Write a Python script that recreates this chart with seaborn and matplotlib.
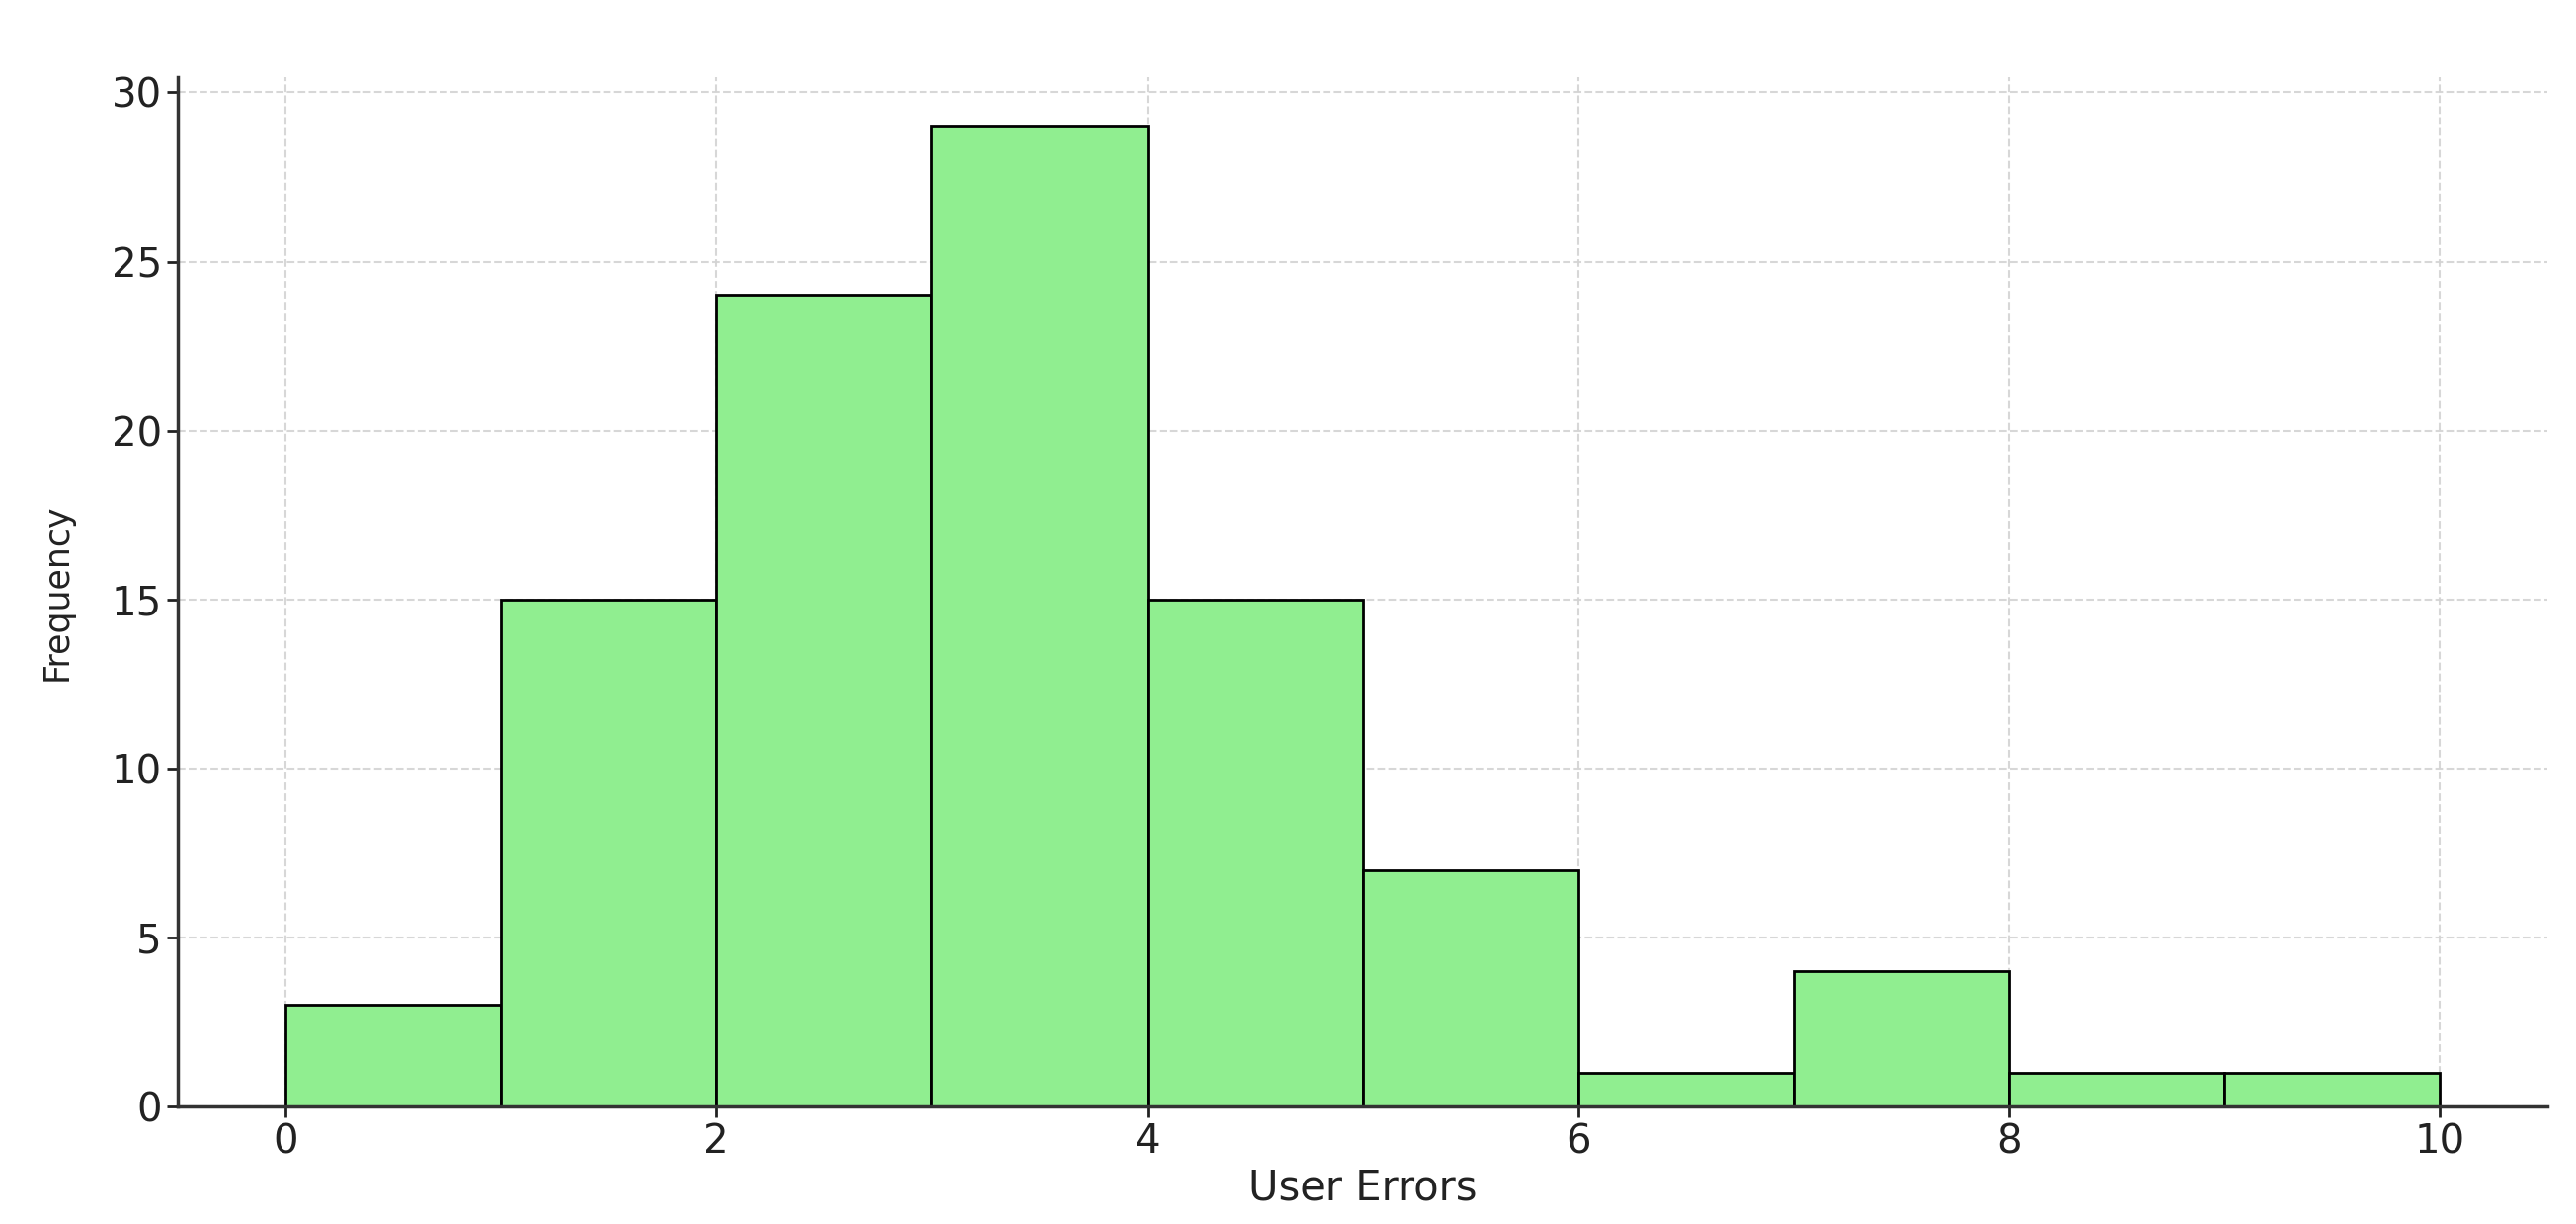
import numpy as np
import matplotlib
matplotlib.use("Agg")
import matplotlib.pyplot as plt
import seaborn as sns

sns.set_style("ticks")
plt.rcParams["font.family"] = ["DejaVu Sans"]

# ==========================
# DATA
# ==========================

bin_edges = [0, 1, 2, 3, 4, 5, 6, 7, 8, 9, 10]
counts = [3, 15, 24, 29, 15, 7, 1, 4, 1, 1]
bin_centers = [(a + b) / 2 for a, b in zip(bin_edges[:-1], bin_edges[1:])]
x_ticks = [0, 2, 4, 6, 8, 10]
y_ticks = [0, 5, 10, 15, 20, 25, 30]

# ==========================
# PLOT
# ==========================

fig = plt.figure(figsize=(26.08, 12.39), dpi=100)
ax = fig.add_axes([0.069, 0.096, 0.920, 0.841])

sns.histplot(
    x=bin_centers,
    weights=counts,
    bins=bin_edges,
    color="lightgreen",
    edgecolor="black",
    linewidth=2,
    alpha=1,
    ax=ax
)

ax.grid(True, linestyle="--", color="lightgray", linewidth=1.5, alpha=0.9)
ax.set_axisbelow(True)

ax.set_xlim(-0.5, 10.5)
ax.set_ylim(0, 30.45)
ax.set_xticks(x_ticks)
ax.set_yticks(y_ticks)

for side in ["top", "right"]:
    ax.spines[side].set_visible(False)
for side in ["left", "bottom"]:
    ax.spines[side].set_color("#333333")
    ax.spines[side].set_linewidth(2.5)

ax.tick_params(axis="both", labelsize=29, width=2, length=8, colors="#222222")

ax.set_xlabel("User Errors", fontsize=30, color="#222222")
ax.set_ylabel("Frequency", fontsize=25, color="#222222")
ax.yaxis.set_label_coords(-0.044, 0.5)

fig.savefig("out.png", dpi=100)
